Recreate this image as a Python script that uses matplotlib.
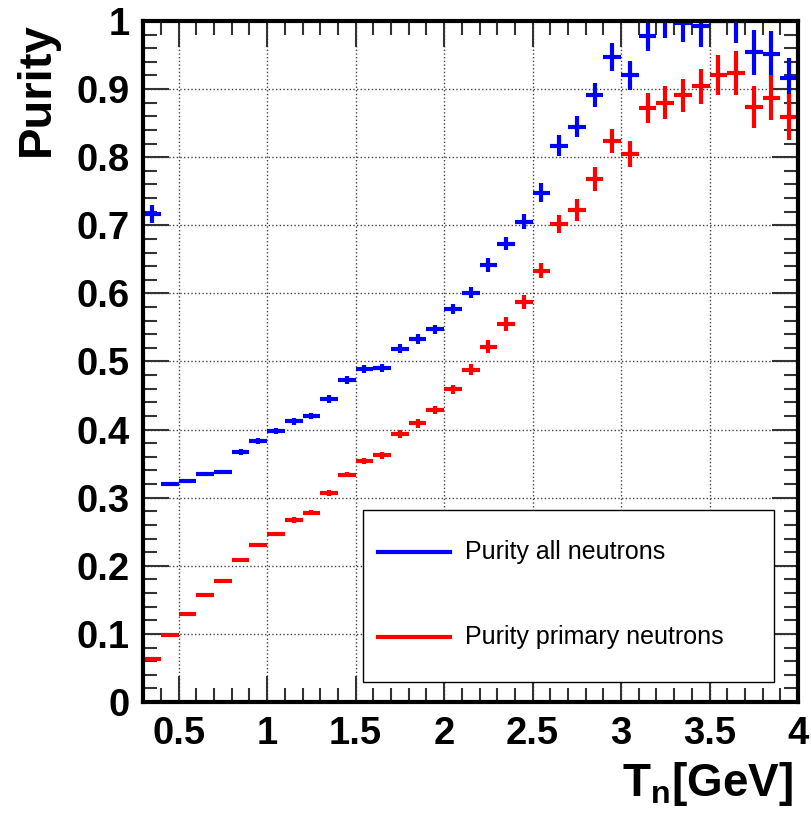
import numpy as np
import matplotlib
matplotlib.use("Agg")
import matplotlib.pyplot as plt
from matplotlib.patches import Rectangle
from matplotlib.ticker import MultipleLocator

plt.rcParams['font.family'] = ['Liberation Sans', 'DejaVu Sans']
plt.rcParams['mathtext.fontset'] = 'custom'
plt.rcParams['mathtext.rm'] = 'Liberation Sans:bold'
plt.rcParams['mathtext.it'] = 'Liberation Sans:bold'
plt.rcParams['mathtext.bf'] = 'Liberation Sans:bold'

# bin centres (T_n in GeV), bin width 0.1
t_n = np.round(np.arange(0.35, 4.0, 0.1), 2)

purity_all = [0.717, 0.320, 0.324, 0.335, 0.338, 0.367, 0.383, 0.398, 0.412, 0.420,
              0.445, 0.473, 0.489, 0.491, 0.519, 0.533, 0.547, 0.577, 0.601, 0.642,
              0.673, 0.705, 0.748, 0.817, 0.845, 0.891, 0.947, 0.920, 0.978, 1.000,
              0.997, 0.992, 1.000, 1.000, 0.954, 0.952, 0.916]
err_all = [0.013, 0.003, 0.003, 0.003, 0.003, 0.004, 0.004, 0.004, 0.005, 0.005,
           0.006, 0.006, 0.006, 0.006, 0.007, 0.007, 0.007, 0.007, 0.008, 0.010,
           0.010, 0.011, 0.014, 0.015, 0.016, 0.018, 0.020, 0.021, 0.022, 0.025,
           0.028, 0.030, 0.0, 0.032, 0.033, 0.034, 0.029]

purity_prim = [0.063, 0.098, 0.129, 0.157, 0.177, 0.209, 0.230, 0.247, 0.267, 0.278,
               0.307, 0.334, 0.354, 0.362, 0.393, 0.409, 0.429, 0.459, 0.488, 0.522,
               0.555, 0.587, 0.633, 0.702, 0.722, 0.768, 0.824, 0.805, 0.872, 0.880,
               0.891, 0.904, 0.921, 0.924, 0.874, 0.887, 0.859]
err_prim = [0.002, 0.002, 0.002, 0.002, 0.002, 0.003, 0.003, 0.003, 0.004, 0.004,
            0.004, 0.004, 0.005, 0.005, 0.006, 0.006, 0.006, 0.007, 0.008, 0.009,
            0.010, 0.010, 0.011, 0.013, 0.016, 0.017, 0.018, 0.019, 0.022, 0.024,
            0.024, 0.026, 0.029, 0.032, 0.031, 0.033, 0.034]

labels = ['Purity all neutrons', 'Purity primary neutrons']
colors = ['#0000ff', '#ff0000']

fig = plt.figure(figsize=(8.11, 8.14), dpi=100)
ax = fig.add_axes([0.1767, 0.1376, 0.8073, 0.8366])

for y, e, c in [(purity_all, err_all, colors[0]), (purity_prim, err_prim, colors[1])]:
    ax.errorbar(t_n, y, xerr=0.05, yerr=e, fmt='none', ecolor=c,
                elinewidth=3, capsize=0, zorder=2)

ax.set_xlim(0.3, 4.0)
ax.set_ylim(0.0, 1.0)
ax.xaxis.set_major_locator(MultipleLocator(0.5))
ax.xaxis.set_minor_locator(MultipleLocator(0.1))
ax.yaxis.set_major_locator(MultipleLocator(0.1))
ax.yaxis.set_minor_locator(MultipleLocator(0.02))
ax.xaxis.set_major_formatter(lambda v, p: f'{v:g}')
ax.yaxis.set_major_formatter(lambda v, p: f'{v:g}')

ax.grid(True, which='major', linestyle=':', color='#444444', lw=1)
ax.tick_params(which='both', direction='in', top=True, right=True,
               labelsize=27.5, width=1.5, color='#333333')
ax.tick_params(which='major', length=19, pad=10)
ax.tick_params(which='minor', length=10)
for lab in ax.get_xticklabels() + ax.get_yticklabels():
    lab.set_fontweight('bold')
for s in ax.spines.values():
    s.set_linewidth(3)

fig.text(37 / 811, 1 - 22 / 814, 'Purity', rotation=90, ha='center', va='top',
         fontsize=34, fontweight='bold')
ax.set_xlabel(r'T$_\mathrm{n}$[GeV]', fontsize=33, fontweight='bold', loc='right')
ax.xaxis.set_label_coords(0.993, -0.085)

# legend box drawn by hand (ROOT style TLegend)
ax.add_patch(Rectangle((0.335, 0.030), 0.628, 0.252, transform=ax.transAxes,
                       facecolor='white', edgecolor='black', lw=1, zorder=5))
for i, (lab, c) in enumerate(zip(labels, colors)):
    yy = 0.2198 - i * 0.1244
    ax.plot([0.3586, 0.4686], [yy, yy], color=c, lw=3, transform=ax.transAxes,
            zorder=6, clip_on=False)
    ax.text(0.4914, yy, lab, transform=ax.transAxes, fontsize=18, va='center',
            ha='left', zorder=6)

fig.savefig('out.png', dpi=100)
